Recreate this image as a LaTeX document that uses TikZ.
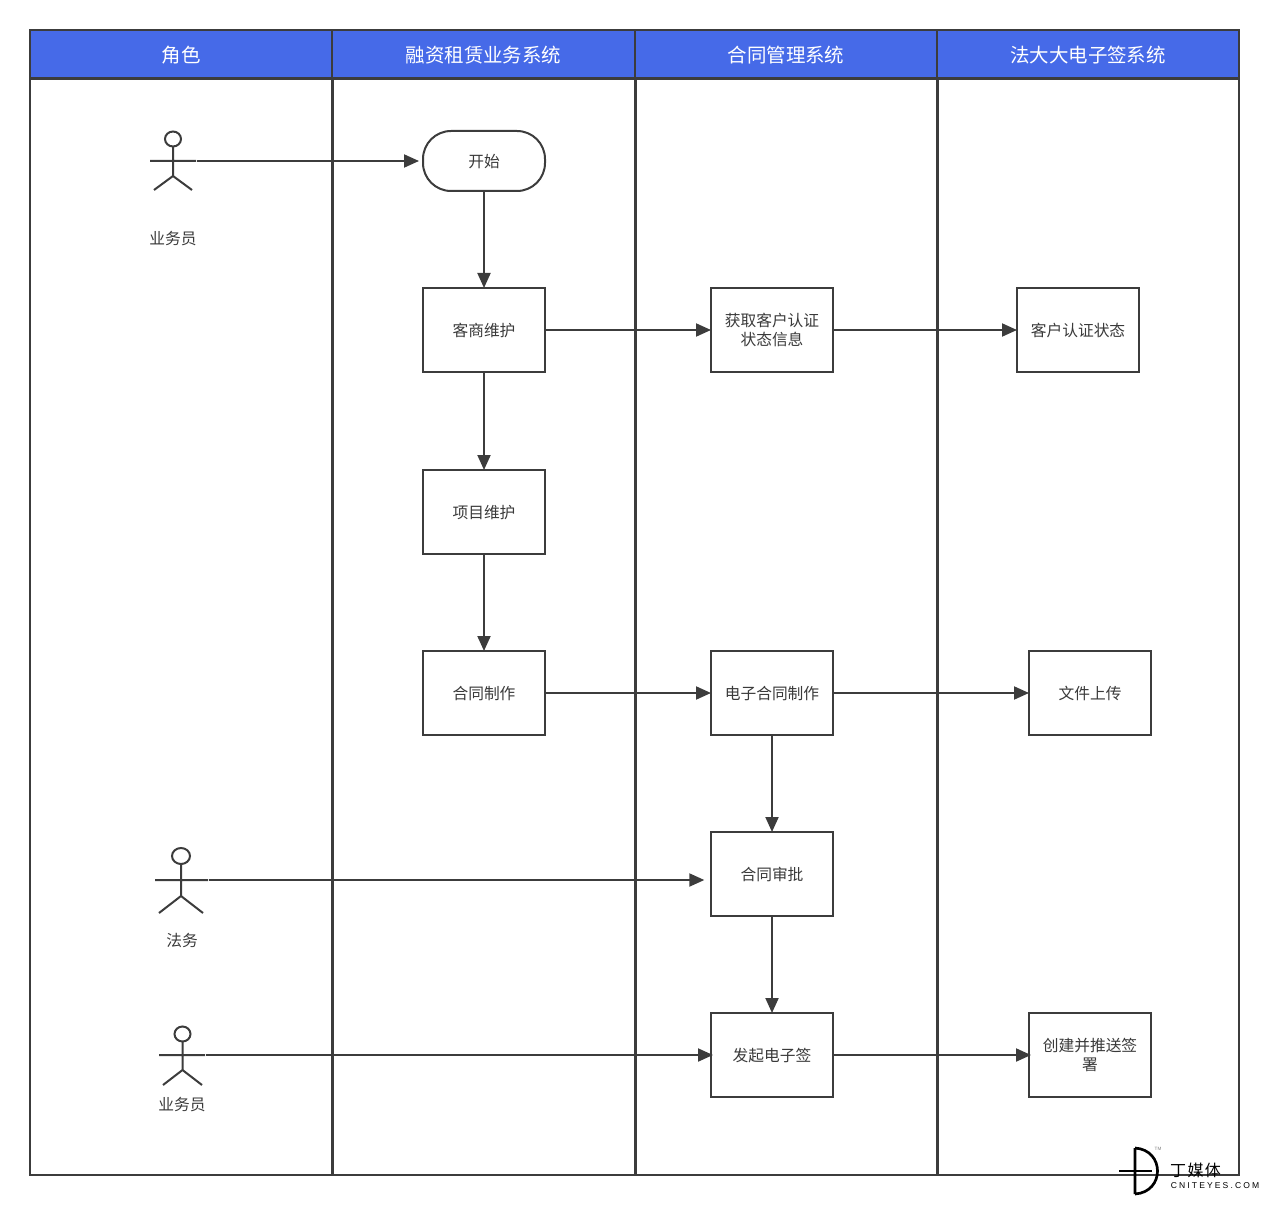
\documentclass[tikz,border=0pt]{standalone}
\usepackage{fontspec}
\setmainfont{Noto Sans CJK SC}
\newfontfamily\logofont{Liberation Sans}
\usepackage{xcolor}
\usetikzlibrary{
  arrows.meta,
  positioning,
  calc
}
\definecolor{headblue}{HTML}{466AE8}
\definecolor{linegray}{HTML}{3C3C3C}
\definecolor{textgray}{HTML}{3A3A3A}

\begin{document}
\begin{tikzpicture}[
  x=0.75pt, y=-0.75pt,
  every node/.style={inner sep=0pt, outer sep=0pt},
  lane/.style={draw=linegray, line width=1.5pt, minimum height=822pt},
  lanehead/.style={text depth=0pt, draw=linegray, line width=1.5pt, fill=headblue, text=white,
                   minimum height=36pt, font=\fontsize{14.6}{17}\selectfont},
  procbox/.style={text depth=0pt, draw=linegray, line width=1.5pt, fill=white, text=textgray, minimum width=91.5pt,
                  minimum height=63pt, font=\fontsize{11.8}{14.7}\selectfont},
  twoline/.style={procbox, text depth={}, align=center},
  startbox/.style={procbox, minimum height=45pt, rounded corners=21pt},
  actorlbl/.style={text depth=0pt, text=textgray, font=\fontsize{11.8}{14}\selectfont},
  actor/.style={draw=linegray, line width=1.5pt},
  arrow/.style={-{Triangle[length=11.25pt, width=9.75pt]}, draw=linegray, line width=1.5pt},
]
  \useasboundingbox (0,0) rectangle (1269,1205);

  % Lanes
  \node[lane, minimum width=226.25pt] (lane1) at (180.75,627) {};
  \node[lane, minimum width=226.5pt] (lane2) at (483.5,627) {};
  \node[lane, minimum width=225.75pt] (lane3) at (786,627) {};
  \node[lane, minimum width=226.125pt] (lane4) at (1088.25,627) {};
  \node[lanehead, minimum width=226.5pt] (head1) at (181,54) {角色};
  \node[lanehead, minimum width=227.25pt] (head2) at (483.5,54) {融资租赁业务系统};
  \node[lanehead, minimum width=226.5pt] (head3) at (786,54) {合同管理系统};
  \node[lanehead, minimum width=226.5pt] (head4) at (1088,54) {法大大电子签系统};

  % Boxes
  \node[startbox] (start) at (484,161) {开始};
  \node[procbox] (custkeep) at (484,330) {客商维护};
  \node[procbox] (prokeep) at (484,512) {项目维护};
  \node[procbox] (contmake) at (484,693) {合同制作};
  \node[twoline] (authinfo) at (772,330) {获取客户认证\\状态信息};
  \node[procbox] (econt) at (772,693) {电子合同制作};
  \node[procbox] (review) at (772,874) {合同审批};
  \node[procbox] (esign) at (772,1055) {发起电子签};
  \node[procbox] (authstate) at (1078,330) {客户认证状态};
  \node[procbox] (upload) at (1090,693) {文件上传};
  \node[twoline] (push) at (1090,1055) {创建并推送签\\署};

  % Actors
  \draw[actor] (173,139) ellipse [x radius=8, y radius=7.5];
  \draw[actor] (173,147) -- (173,176) (154,190) -- (173,176) -- (192,190) (150,161) -- (196,161);
  \coordinate (sales1) at (197,161);
  \node[actorlbl] (sales1lbl) at (173,238) {业务员};

  \draw[actor] (181,856) ellipse [x radius=9, y radius=8];
  \draw[actor] (181,864) -- (181,896) (159,913) -- (181,896) -- (203,913) (155,880) -- (208,880);
  \coordinate (legal) at (209,880);
  \node[actorlbl] (legallbl) at (182,940) {法务};

  \draw[actor] (182.5,1034) ellipse [x radius=8, y radius=7.5];
  \draw[actor] (182.5,1042) -- (182.5,1070) (163,1085) -- (182.5,1070) -- (202,1085) (159,1055) -- (205,1055);
  \coordinate (sales2) at (206,1055);
  \node[actorlbl] (sales2lbl) at (182,1104) {业务员};

  % Connectors
  \draw[arrow, shorten >=3pt] (sales1) -- (start);
  \draw[arrow] (start) -- (custkeep);
  \draw[arrow] (custkeep) -- (prokeep);
  \draw[arrow] (prokeep) -- (contmake);
  \draw[arrow] (custkeep) -- (authinfo);
  \draw[arrow] (authinfo) -- (authstate);
  \draw[arrow] (contmake) -- (econt);
  \draw[arrow] (econt) -- (upload);
  \draw[arrow] (econt) -- (review);
  \draw[arrow] (review) -- (esign);
  \draw[arrow, shorten >=5pt] (legal) -- (legal -| review.west);
  \draw[arrow, shorten >=-1.5pt] (sales2) -- (sales2 -| esign.west);
  \draw[arrow, shorten >=-1.5pt] (esign) -- (push);

  % Logo
  \draw[black, line width=2pt] (1135,1148) -- (1135,1194)
    (1135,1148) .. controls (1165,1150) and (1165,1192) .. (1135,1194);
  \draw[black, line width=2pt] (1119,1171) -- (1134,1171) (1136,1171) -- (1152,1171);
  \node[text=black, font=\fontsize{12}{14}\selectfont] (logocn) at (1195.5,1170) {丁\hspace{1pt}媒\hspace{1pt}体};
  \node[text=black, font=\logofont\fontsize{6.4}{7}\selectfont\addfontfeatures{LetterSpace=25}] (logoen) at (1215,1185.5) {CNITEYES.COM};
  \node[text=gray, font=\logofont\fontsize{3.5}{4}\selectfont] (logotm) at (1158,1148.5) {TM};
\end{tikzpicture}
\end{document}
